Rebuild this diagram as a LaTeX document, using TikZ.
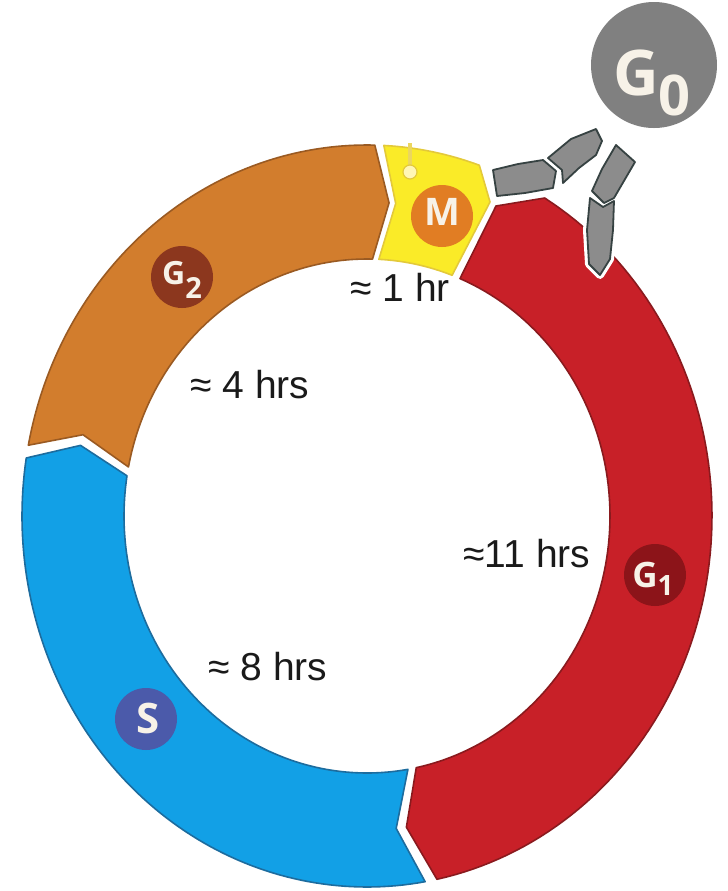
\documentclass[tikz,border=0pt]{standalone}
\usepackage{fontspec}
\setmainfont{Liberation Sans}
\newfontfamily\labfont{Open Sans}
\usetikzlibrary{calc}
\definecolor{redF}{HTML}{C82028}
\definecolor{redD}{HTML}{8A1A1E}
\definecolor{blueF}{HTML}{12A0E6}
\definecolor{blueD}{HTML}{1D6C9E}
\definecolor{orF}{HTML}{D27D2D}
\definecolor{orD}{HTML}{9A5A22}
\definecolor{yeF}{HTML}{FAEB28}
\definecolor{yeD}{HTML}{E3C93A}
\definecolor{grF}{HTML}{8C8C8C}
\definecolor{grD}{HTML}{364242}
\definecolor{gzero}{HTML}{808080}
\definecolor{cG1}{HTML}{8C1419}
\definecolor{cG2}{HTML}{8C371E}
\definecolor{cS}{HTML}{4B5AAA}
\definecolor{cM}{HTML}{E17D23}
\definecolor{labtext}{HTML}{F7F2E8}
\definecolor{txt}{HTML}{1A1A1A}
\definecolor{pinF}{HTML}{FFF6B5}
% ring segment: #1 style, #2 start outer, #3 start inner, #4 notch point, #5 end outer, #6 end inner, #7 tip point
\newcommand{\ringseg}[7]{%
  \path[#1] ({367+345*cos(#2)},{516+371*sin(#2)})
    -- plot[domain=#2:#5,samples=90,variable=\t] ({367+345*cos(\t)},{516+371*sin(\t)})
    -- #7
    -- plot[domain=#6:#3,samples=90,variable=\t] ({367+243*cos(\t)},{516+257*sin(\t)})
    -- #4 -- cycle;}
\tikzset{
  segG1/.style={fill=redF, draw=redD, line width=0.8pt, line join=round},
  segS/.style={fill=blueF, draw=blueD, line width=0.8pt, line join=round},
  segG2/.style={fill=orF, draw=orD, line width=0.8pt, line join=round},
  segM/.style={fill=yeF, draw=yeD, line width=0.8pt, line join=round},
  halo/.style={draw=white, line width=4pt, line join=round},
  grpiece/.style={fill=grF, draw=grD, line width=0.9pt, line join=round},
  labcirc/.style={circle, inner sep=0pt, minimum size=31pt},
  labtxt/.style={anchor=base, text=labtext, inner sep=0pt, font=\labfont\bfseries},
  hrs/.style={anchor=base, text=txt, inner sep=0pt, font=\fontsize{19.5}{21}\selectfont}
}
\begin{document}
\begin{tikzpicture}[x=0.5pt,y=-0.5pt]
\useasboundingbox (0,0) rectangle (728,891);
% ring segments
\ringseg{segG1}{301}{292.5}{(496,206)}{438.3}{438.3}{({367+294*cos(442.3)},{516+314*sin(442.3)})}
\ringseg{segS}{80.3}{80.3}{({367+294*cos(84.3)},{516+314*sin(84.3)})}{189}{189}{({367+294*cos(193)},{516+314*sin(193)})}
\ringseg{segG2}{191}{191}{({367+294*cos(195)},{516+314*sin(195)})}{271.3}{271.3}{({367+294*cos(274.3)},{516+314*sin(274.3)})}
\ringseg{segM}{272.8}{272.8}{({367+294*cos(275.6)},{516+314*sin(275.6)})}{289}{290.5}{(490,202)}
% pin on M
\draw[yeD!70!pinF, line width=1.8pt] (410,143) -- (410,166);
\node[circle, fill=pinF, draw=yeD, line width=0.6pt, minimum size=7pt, inner sep=0pt] (pin) at (410,172) {};
% gray arrows (halo first)
\foreach \st in {halo, grpiece}{
  \path[\st] (493,170) -- (518,164) -- (543,160) -- (556,171) -- (553,188) -- (525,193) -- (497,196) -- cycle;
  \path[\st] (548,158) -- (571,139) -- (596,129) -- (602,141) -- (596,155) -- (579,168) -- (563,183) -- (562,170) -- cycle;
  \path[\st] (616,145) -- (635,162) -- (614,198) -- (604,203) -- (592,191) -- (602,169) -- cycle;
  \path[\st] (590,198) -- (603,207) -- (614,201) -- (613,230) -- (610,259) -- (600,275) -- (589,264) -- (587,230) -- cycle;
}
% G0
\node[circle, fill=gzero, minimum size=63pt, inner sep=0pt] (g0) at (654,65) {};
\node[labtxt] (g0t) at (652,95) {\fontsize{31.5}{32}\selectfont G\raisebox{-10pt}{\fontsize{28}{28}\selectfont 0}};
% label circles
\node[labcirc, fill=cM] (mc) at (442,216) {};
\node[labtxt] (mt) at (442,225) {\fontsize{19}{20}\selectfont M};
\node[labcirc, fill=cG2] (g2c) at (182,277) {};
\node[labtxt] (g2t) at (182,284) {\fontsize{16}{17}\selectfont G\raisebox{-7pt}{\fontsize{14.5}{15}\selectfont 2}};
\node[labcirc, fill=cG1] (g1c) at (655,575) {};
\node[labtxt] (g1t) at (653,587) {\fontsize{17.5}{18}\selectfont G\raisebox{-4pt}{\fontsize{14}{14}\selectfont 1}};
\node[labcirc, fill=cS] (sc) at (146,719) {};
\node[labtxt] (st) at (148,733) {\fontsize{21}{22}\selectfont S};
% durations
\node[hrs] (t1) at (400,301) {≈ 1 hr};
\node[hrs] (t4) at (250,398) {≈ 4 hrs};
\node[hrs] (t11) at (527,567) {≈11 hrs};
\node[hrs] (t8) at (268,680) {≈ 8 hrs};
\end{tikzpicture}
\end{document}
